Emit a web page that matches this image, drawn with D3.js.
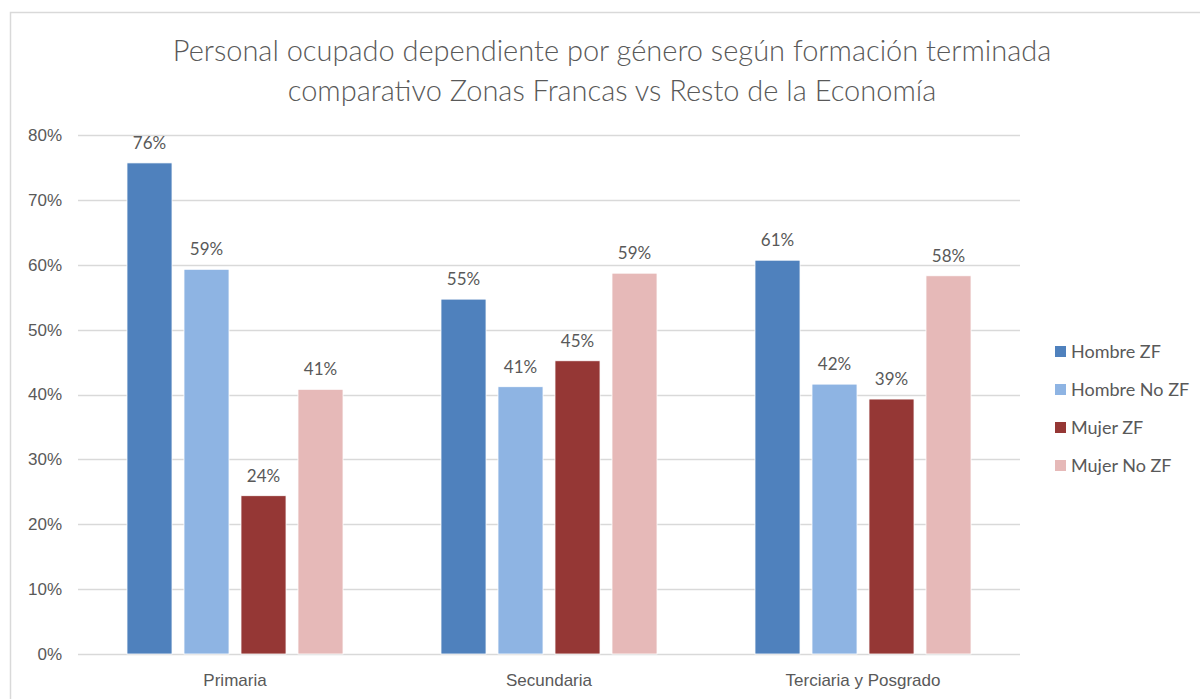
<!DOCTYPE html>
<html lang="es">
<head>
<meta charset="utf-8">
<title>Personal ocupado dependiente por género</title>
<script src="https://d3js.org/d3.v7.min.js"></script>
<style>
  body { margin: 0; background: #fff; }
  svg { display: block; font-family: Lato, "Open Sans", sans-serif; }
  text { fill: #595959; }
</style>
</head>
<body>
<script>
// categories and series
var categories = ["Primaria", "Secundaria", "Terciaria y Posgrado"];
var seriesNames = ["Hombre ZF", "Hombre No ZF", "Mujer ZF", "Mujer No ZF"];
var hombreZF   = [0.757, 0.547, 0.607];
var hombreNoZF = [0.593, 0.412, 0.416];
var mujerZF    = [0.244, 0.452, 0.393];
var mujerNoZF  = [0.408, 0.587, 0.583];
var yTicks = [0, 0.1, 0.2, 0.3, 0.4, 0.5, 0.6, 0.7, 0.8];
var colors = ["#4f81bd", "#8eb4e3", "#953735", "#e6b9b8"];

var allValues = [hombreZF, hombreNoZF, mujerZF, mujerNoZF];
var data = categories.map(function(c, i) {
  return { cat: c, vals: seriesNames.map(function(s, j) { return { name: s, v: allValues[j][i] }; }) };
});

var W = 1200, H = 699;

var svg = d3.select("body").append("svg").attr("width", W).attr("height", H);

// outer frame
svg.append("rect").attr("x", 10.5).attr("y", 12.5).attr("width", 1204).attr("height", 700)
  .attr("fill", "none").attr("stroke", "#d9d9d9").attr("stroke-width", 1.5);

// title
svg.append("text").attr("x", 612).attr("y", 61).attr("text-anchor", "middle")
  .style("font-size", "29px").style("font-weight", 300)
  .text("Personal ocupado dependiente por género según formación terminada");
svg.append("text").attr("x", 612).attr("y", 101).attr("text-anchor", "middle")
  .style("font-size", "29px").style("font-weight", 300)
  .text("comparativo Zonas Francas vs Resto de la Economía");

var x0 = d3.scaleBand().domain(categories).range([78, 1020]).paddingInner(0.312).paddingOuter(0.156);
var x1 = d3.scaleBand().domain(seriesNames).range([0, x0.bandwidth()]).paddingInner(0.21);
var y = d3.scaleLinear().domain([0, 0.8]).range([654, 135]);

// gridlines
svg.append("g").selectAll("line").data(yTicks).join("line")
  .attr("x1", 78).attr("x2", 1020)
  .attr("y1", function(d) { return Math.round(y(d)) + 0.5; })
  .attr("y2", function(d) { return Math.round(y(d)) + 0.5; })
  .attr("stroke", "#d9d9d9").attr("stroke-width", 1.5);

// y axis labels
var yAxis = d3.axisLeft(y).tickValues(yTicks).tickFormat(d3.format(".0%")).tickSize(0).tickPadding(0);
var gy = svg.append("g").attr("transform", "translate(62,0)").call(yAxis);
gy.select(".domain").remove();
gy.selectAll("text").style("font-size", "17px").attr("fill", "#595959");

// x axis labels
var xAxis = d3.axisBottom(x0).tickSize(0).tickPadding(0);
var gx = svg.append("g").attr("transform", "translate(0,674)").call(xAxis);
gx.select(".domain").remove();
gx.selectAll("text").style("font-size", "17px").attr("fill", "#595959");

// bars
var groups = svg.append("g").selectAll("g").data(data).join("g")
  .attr("transform", function(d) { return "translate(" + x0(d.cat) + ",0)"; });

groups.selectAll("rect").data(function(d) { return d.vals; }).join("rect")
  .attr("x", function(d) { return x1(d.name); })
  .attr("y", function(d) { return y(d.v); })
  .attr("width", x1.bandwidth())
  .attr("height", function(d) { return y(0) - y(d.v); })
  .attr("fill", function(d, i) { return colors[i]; })
  .attr("stroke", "#fff").attr("stroke-width", 0.8);

groups.selectAll("text").data(function(d) { return d.vals; }).join("text")
  .attr("x", function(d) { return x1(d.name) + x1.bandwidth() / 2; })
  .attr("y", function(d) { return y(d.v) - 14; })
  .attr("text-anchor", "middle")
  .style("font-size", "17px")
  .attr("fill", "#404040")
  .text(function(d) { return d3.format(".0%")(d.v); });

// legend
var leg = svg.append("g").selectAll("g").data(seriesNames).join("g")
  .attr("transform", function(d, i) { return "translate(1055," + (351 + i * 38) + ")"; });
leg.append("rect").attr("x", 0).attr("y", -5).attr("width", 11).attr("height", 11)
  .attr("fill", function(d, i) { return colors[i]; });
leg.append("text").attr("x", 16).attr("y", 7).style("font-size", "18px").text(function(d) { return d; });
</script>
</body>
</html>
